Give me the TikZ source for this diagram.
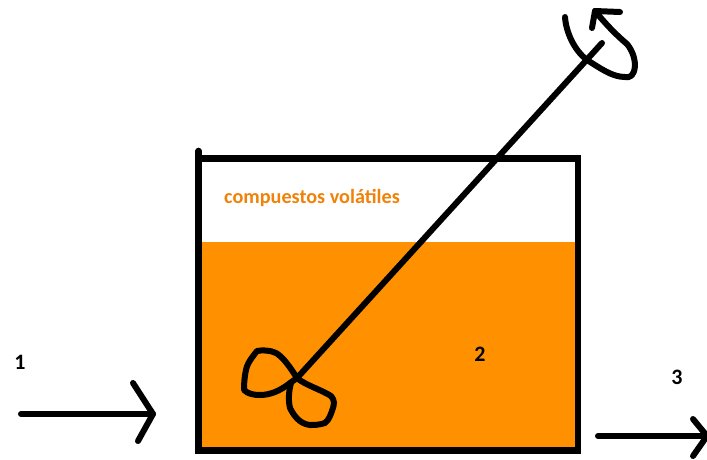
\documentclass[tikz,border=0pt]{standalone}
\usepackage{fontspec}
\setmainfont{Carlito}
\definecolor{liquid}{RGB}{255,145,0}
\definecolor{vapor}{RGB}{240,130,10}
\tikzset{
  ink/.style={draw=black,line width=6pt,line cap=round,line join=round},
  tankline/.style={draw=black,line width=6.6pt,line cap=round,line join=miter},
  lab/.style={font=\bfseries\fontsize{22pt}{24pt}\selectfont,text=black,inner sep=0pt},
}
\begin{document}
\begin{tikzpicture}[x=1pt,y=-1pt]
\useasboundingbox (0,0) rectangle (707,459);
\fill[white] (0,0) rectangle (707,459);
\fill[liquid] (199,242) rectangle (578,450);
% tank
\coordinate (tl0) at (198.5,151);
\coordinate (bl) at (198.5,450.5);
\coordinate (tl) at (198.5,158.5);
\coordinate (tr) at (578,158.5);
\coordinate (br) at (578,450.5);
\draw[tankline] (tl0) -- (bl) -- (br) -- (tr) -- (tl);
% shaft
\coordinate (hub) at (297,378);
\coordinate (top) at (602,43);
\draw[ink] (hub) -- (top);
% blades
\draw[ink] (hub) .. controls (290,367) and (283,357) .. (276,353)
  .. controls (270,350) and (262,350) .. (257,351)
  .. controls (253,356) and (250,360) .. (248,364)
  .. controls (245,370) and (244,382) .. (244,390)
  .. controls (248,394) and (254,395) .. (260,395)
  .. controls (270,395) and (280,391) .. (290,383) -- (hub);
\draw[ink] (hub) .. controls (305,385) and (322,390) .. (331,396)
  .. controls (335,400) and (334,405) .. (333,408)
  .. controls (331,414) and (329,420) .. (325,423)
  .. controls (319,425) and (314,425) .. (310,425)
  .. controls (300,424) and (294,416) .. (290,408)
  .. controls (288,400) and (289,390) .. (291,383);
% rotation arrow
\coordinate (rs) at (565,17);
\coordinate (rtip) at (595,11);
\coordinate (rh1) at (620,12);
\coordinate (rh2) at (592,28);
\draw[ink] (rs) .. controls (566,32) and (574,50) .. (587,60)
  .. controls (600,68) and (612,77) .. (625,77)
  .. controls (630,78) and (634,76) .. (635,66)
  .. controls (635,58) and (632,50) .. (627,44)
  .. controls (615,34) and (604,22) .. (rtip);
\draw[ink] (rh1) -- (rtip) -- (rh2);
% inlet
\coordinate (a1) at (21,414);
\coordinate (a1t) at (153,414);
\coordinate (a1u) at (133,383);
\coordinate (a1d) at (138,441);
\draw[ink] (a1) -- (a1t);
\draw[ink] (a1u) -- (a1t) -- (a1d);
% outlet
\coordinate (a3) at (598,436);
\coordinate (a3t) at (707,436);
\coordinate (a3u) at (693,419);
\coordinate (a3d) at (693,456);
\draw[ink] (a3) -- (a3t);
\draw[ink] (a3u) -- (a3t) -- (a3d);
% labels
\node[lab,font=\bfseries\fontsize{20.2pt}{24pt}\selectfont,text=vapor,anchor=base west] (vol) at (224,203) {compuestos volátiles};
\node[lab] (n1) at (20,362) {1};
\node[lab] (n2) at (480,354) {2};
\node[lab] (n3) at (677,377) {3};
\end{tikzpicture}
\end{document}
